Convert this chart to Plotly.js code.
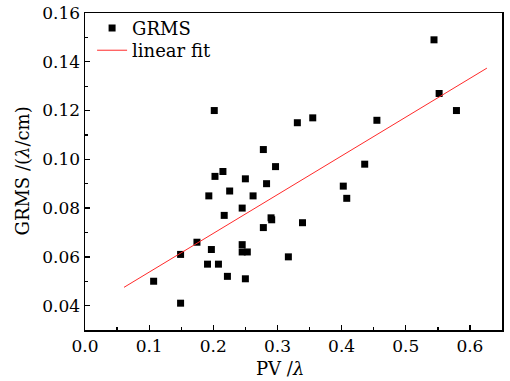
<!DOCTYPE html>
<html><head><meta charset="utf-8">
<script src="https://cdn.plot.ly/plotly-3.0.1.min.js"></script>
<style>html,body{margin:0;padding:0;background:#fff}</style>
</head><body><div id="chart" style="width:510px;height:381px"></div>
<script>
const pvValues = [0.107,0.149,0.149,0.1745,0.191,0.193,0.197,0.2015,0.2026,0.208,0.215,0.217,0.222,0.2255,0.245,0.245,0.245,0.253,0.250,0.250,0.262,0.278,0.278,0.283,0.290,0.291,0.297,0.317,0.331,0.339,0.355,0.4026,0.408,0.436,0.455,0.544,0.552,0.579];
const grmsValues = [0.050,0.041,0.061,0.066,0.057,0.085,0.063,0.120,0.093,0.057,0.095,0.077,0.052,0.087,0.080,0.065,0.062,0.062,0.092,0.051,0.085,0.104,0.072,0.090,0.076,0.0752,0.097,0.060,0.115,0.074,0.117,0.089,0.084,0.098,0.116,0.149,0.127,0.120];
const fitX = [0.0608, 0.6265];
const fitY = [0.0475, 0.1374];
const xTitle = 'PV /<i>λ</i>';
const yTitle = 'GRMS /(<i>λ</i>/cm)';
const seriesNames = ['GRMS', 'linear fit'];

const tickFont = {family: 'DejaVu Serif, serif', size: 17, color: '#000'};
const font = {family: 'DejaVu Serif, serif', size: 18, color: '#000'};
const data = [
  {x: pvValues, y: grmsValues, type: 'scatter', mode: 'markers', name: seriesNames[0],
   marker: {symbol: 'square', size: 7, color: '#000'}, legend: 'legend'},
  {x: fitX, y: fitY, type: 'scatter', mode: 'lines', name: seriesNames[1],
   line: {color: '#ff2a2a', width: 1}, legend: 'legend2'}
];
const axisCommon = {
  showgrid: false, zeroline: false, showline: true, linecolor: '#000', linewidth: 1.5,
  mirror: true, ticks: 'inside', ticklen: 5, tickwidth: 1.3, tickcolor: '#000',
  tickfont: tickFont
};
const legendCommon = {xanchor: 'left', yanchor: 'top', bgcolor: 'rgba(0,0,0,0)',
  font: font, itemwidth: 30};
const layout = {
  width: 510, height: 381,
  margin: {l: 85, r: 8, t: 13, b: 51},
  paper_bgcolor: '#fff', plot_bgcolor: '#fff',
  font: font,
  showlegend: true,
  legend: Object.assign({x: 0.017, y: 1.01}, legendCommon),
  legend2: Object.assign({x: 0.017, y: 0.94}, legendCommon),
  xaxis: Object.assign({}, axisCommon, {
    range: [0, 0.65], dtick: 0.1, tick0: 0, tickformat: '.1f',
    minor: {dtick: 0.05, ticks: 'inside', ticklen: 3, tickcolor: '#000', tickwidth: 1.3}
  }),
  yaxis: Object.assign({}, axisCommon, {
    range: [0.03, 0.16], dtick: 0.02, tick0: 0, tickformat: '.2f',
    minor: {dtick: 0.01, ticks: 'inside', ticklen: 3, tickcolor: '#000', tickwidth: 1.3}
  }),
  annotations: [
    {text: xTitle, xref: 'paper', yref: 'paper', x: (280-85)/417, y: -(368-330)/317,
     xanchor: 'center', yanchor: 'middle', showarrow: false, font: font},
    {text: yTitle, xref: 'paper', yref: 'paper', x: -(85-22)/417, y: 0.5, textangle: -90,
     xanchor: 'center', yanchor: 'middle', showarrow: false, font: font}
  ]
};
Plotly.newPlot('chart', data, layout, {staticPlot: true, displayModeBar: false});
</script></body></html>
